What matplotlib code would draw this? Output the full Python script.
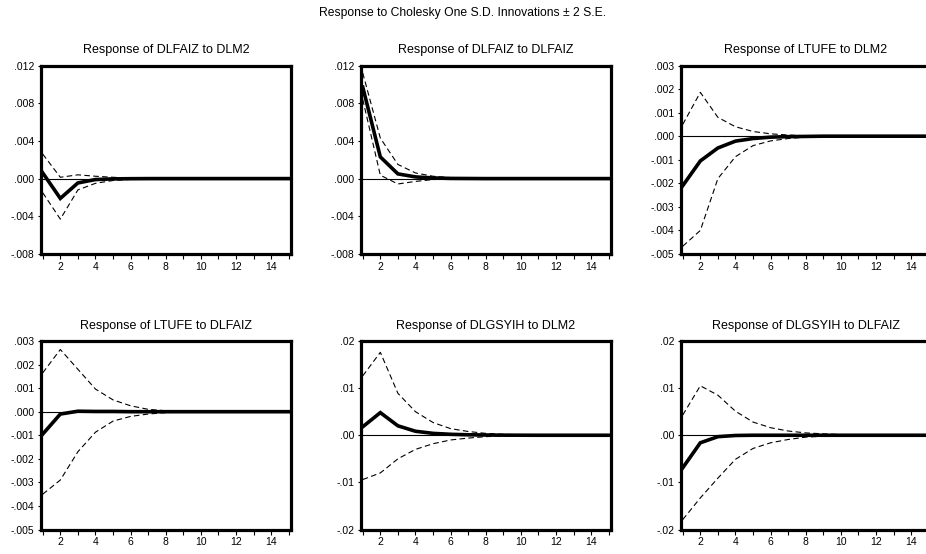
"""
Impulse response grid: Cholesky one S.D. innovations with +/- 2 S.E. bands.
"""
import matplotlib
matplotlib.use("Agg")
import matplotlib.pyplot as plt

plt.rcParams['font.family'] = ['Liberation Sans', 'DejaVu Sans']

periods = list(range(1, 16))

# DLFAIZ to DLM2
resp_1 = [0.0006, -0.0021, -0.00046, -0.0001, -0.00003, -0.00001, 0, 0, 0, 0, 0, 0, 0, 0, 0]
upper_1 = [0.0026, 0.00014, 0.0004, 0.00025, 0.00014, 0.00005, 0.00002, 0.00001, 0, 0, 0, 0, 0, 0, 0]
lower_1 = [-0.0015, -0.0043, -0.0012, -0.0005, -0.0002, -0.00008, -0.00003, -0.00001, 0, 0, 0, 0, 0, 0, 0]

# DLFAIZ to DLFAIZ
resp_2 = [0.0097, 0.0023, 0.0005, 0.00018, 0.00007, 0.00002, 0.00001, 0, 0, 0, 0, 0, 0, 0, 0]
upper_2 = [0.0112, 0.0043, 0.0015, 0.0006, 0.00025, 0.0001, 0.00004, 0.00002, 0.00001, 0, 0, 0, 0, 0, 0]
lower_2 = [0.0084, 0.00036, -0.00057, -0.0003, -0.0001, -0.00004, -0.00002, -0.00001, 0, 0, 0, 0, 0, 0, 0]

# LTUFE to DLM2
resp_3 = [-0.0021, -0.00105, -0.0005, -0.00021, -0.0001, -0.00004, -0.00002, -0.00001, 0, 0, 0, 0, 0, 0, 0]
upper_3 = [0.0005, 0.00186, 0.0008, 0.0004, 0.0002, 0.0001, 0.00005, 0.00002, 0.00001, 0, 0, 0, 0, 0, 0]
lower_3 = [-0.00467, -0.004, -0.0018, -0.00087, -0.0004, -0.0002, -0.0001, -0.00004, -0.00002, -0.00001, 0, 0, 0, 0, 0]

# LTUFE to DLFAIZ
resp_4 = [-0.00095, -0.0001, 0.00002, 0.00001, 0.00001, 0, 0, 0, 0, 0, 0, 0, 0, 0, 0]
upper_4 = [0.00165, 0.00264, 0.0018, 0.00096, 0.0005, 0.00025, 0.0001, 0.00004, 0.00002, 0.00001, 0, 0, 0, 0, 0]
lower_4 = [-0.0035, -0.0029, -0.0017, -0.00087, -0.0004, -0.0002, -0.0001, -0.00004, -0.00002, -0.00001, 0, 0, 0, 0, 0]

# DLGSYIH to DLM2
resp_5 = [0.0018, 0.0048, 0.002, 0.00085, 0.0004, 0.0002, 0.0001, 0.00005, 0.00002, 0.00001, 0, 0, 0, 0, 0]
upper_5 = [0.0126, 0.0176, 0.0089, 0.005, 0.0027, 0.0014, 0.0008, 0.0004, 0.0002, 0.0001, 0.00005, 0.00002, 0.00001, 0, 0]
lower_5 = [-0.0094, -0.008, -0.005, -0.003, -0.0018, -0.001, -0.0006, -0.0003, -0.00015, -0.00007, -0.00003, -0.00001, 0, 0, 0]

# DLGSYIH to DLFAIZ
resp_6 = [-0.0069, -0.0016, -0.0003, -0.00005, 0, 0, 0, 0, 0, 0, 0, 0, 0, 0, 0]
upper_6 = [0.0043, 0.0105, 0.0085, 0.0051, 0.0028, 0.0016, 0.0009, 0.0005, 0.0003, 0.00015, 0.00008, 0.00004, 0.00002, 0.00001, 0]
lower_6 = [-0.0179, -0.0133, -0.0091, -0.0051, -0.0028, -0.0016, -0.0009, -0.0004, -0.0002, -0.0001, -0.00005, -0.00002, -0.00001, 0, 0]

titles = ["Response of DLFAIZ to DLM2", "Response of DLFAIZ to DLFAIZ",
          "Response of LTUFE to DLM2", "Response of LTUFE to DLFAIZ",
          "Response of DLGSYIH to DLM2", "Response of DLGSYIH to DLFAIZ"]

yticks_a = [-0.008, -0.004, 0.0, 0.004, 0.008, 0.012]
yticks_b = [-0.005, -0.004, -0.003, -0.002, -0.001, 0.0, 0.001, 0.002, 0.003]
yticks_c = [-0.02, -0.01, 0.0, 0.01, 0.02]

panels = [
    (resp_1, upper_1, lower_1, yticks_a, 3),
    (resp_2, upper_2, lower_2, yticks_a, 3),
    (resp_3, upper_3, lower_3, yticks_b, 3),
    (resp_4, upper_4, lower_4, yticks_b, 3),
    (resp_5, upper_5, lower_5, yticks_c, 2),
    (resp_6, upper_6, lower_6, yticks_c, 2),
]


def short_label(v, digits):
    # EViews style: drop the leading zero (.004, -.008)
    return f"{v:.{digits}f}".replace("0.", ".", 1)


W, H = 926, 554
fig = plt.figure(figsize=(W / 100, H / 100), dpi=100)
fig.text(0.5, 1 - 13 / H, "Response to Cholesky One S.D. Innovations \u00b1 2 S.E.",
         ha="center", va="center", fontsize=8.7)

lefts = [41, 361, 681]
tops = [65.5, 341]
ax_w, ax_h = 250, 188.5

for i, (resp, upper, lower, yt, digits) in enumerate(panels):
    row, col = divmod(i, 3)
    ax = fig.add_axes([lefts[col] / W, 1 - (tops[row] + ax_h) / H, ax_w / W, ax_h / H])
    ax.axhline(0, color="black", lw=0.8, zorder=1)
    ax.plot(periods, upper, color="black", lw=0.8, ls=(0, (5, 3)), zorder=2)
    ax.plot(periods, lower, color="black", lw=0.8, ls=(0, (5, 3)), zorder=2)
    ax.plot(periods, resp, color="black", lw=2.6, zorder=3, solid_joinstyle="miter")
    ax.set_xlim(0.9, 15.13)
    ax.set_ylim(yt[0], yt[-1])
    ax.set_xticks(periods)
    ax.set_xticklabels([str(p) if p % 2 == 0 else "" for p in periods])
    ax.set_yticks(yt)
    ax.set_yticklabels([short_label(v, digits) for v in yt])
    ax.tick_params(direction="out", length=3.5, width=0.8, labelsize=7.5, pad=2)
    ax.tick_params(axis="y", length=2.5, pad=2.5)
    for s in ax.spines.values():
        s.set_linewidth(2.3)
        s.set_color("black")
    ax.set_title(titles[i], fontsize=9, pad=9)

fig.savefig("out.png", dpi=100)
